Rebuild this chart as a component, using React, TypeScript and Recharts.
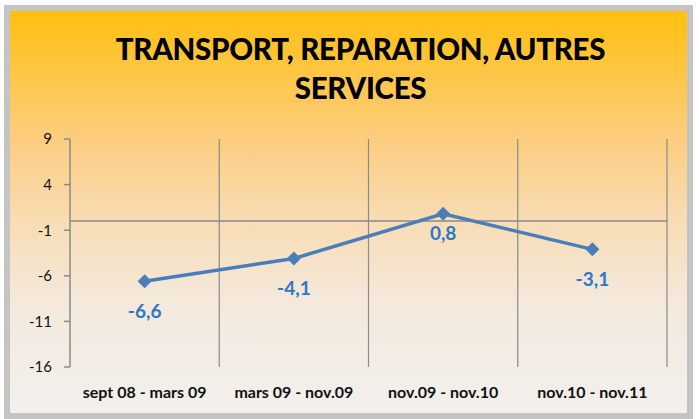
import { LineChart, Line, XAxis, YAxis, ReferenceLine, LabelList } from "recharts";

const periods = ["sept 08 - mars 09", "mars 09 - nov.09", "nov.09 - nov.10", "nov.10 - nov.11"];
const variation = [-6.6, -4.1, 0.8, -3.1];
const yTicks = [9, 4, -1, -6, -11, -16];
const gridBounds = [1, 2, 3, 4];

// slot = middle of each category band, used by the hidden numeric axis for the separators
const chartData = periods.map((p, i) => ({ period: p, value: variation[i], slot: i + 0.5 }));

const axisGray = "#8a8a8a";
const lineBlue = "#4a7ebb";
const labelBlue = "#2a78c6";
const font = "Lato, 'Open Sans', sans-serif";

// diamond marker like Excel's
function Diamond(props: any) {
    const { cx, cy, index } = props;
    if (cx == null || cy == null) return null;
    const r = 7;
    return (
        <path
            key={`d-${index}`}
            d={`M${cx},${cy - r} L${cx + r},${cy} L${cx},${cy + r} L${cx - r},${cy} Z`}
            fill={lineBlue}
        />
    );
}

function ValueLabel(props: any) {
    const { x, y, value, index } = props;
    // excel put the 0,8 label a bit closer to its marker
    const dy = index === 2 ? 19 : 29;
    return (
        <text
            x={x}
            y={y + dy}
            textAnchor="middle"
            dominantBaseline="central"
            fill={labelBlue}
            fontSize={19}
            fontWeight={700}
            fontFamily={font}
        >
            {String(value).replace(".", ",")}
        </text>
    );
}

export default function App() {
    return (
        <div style={{ position: "absolute", left: 0, top: 0, width: 699, height: 419, background: "#ffffff" }}>
            <div
                style={{
                    position: "absolute",
                    left: 4,
                    top: 5,
                    width: 689,
                    height: 414,
                    boxSizing: "border-box",
                    border: "6px solid #c4c4c4",
                    background:
                        "linear-gradient(to bottom, #ffbf0f 0%, #fccd80 32%, #f8dcb3 52%, #f4e8da 71%, #f2f0ee 100%)",
                }}
            />
            <div
                style={{
                    position: "absolute",
                    left: 11,
                    width: 699,
                    top: 29,
                    textAlign: "center",
                    fontFamily: font,
                    fontWeight: 900,
                    fontSize: 29.5,
                    lineHeight: "39px",
                    color: "#000",
                    letterSpacing: -0.3,
                }}
            >
                <div>TRANSPORT, REPARATION, AUTRES</div>
                <div>SERVICES</div>
            </div>
            <div style={{ position: "absolute", left: 0, top: 0 }}>
                <LineChart
                    width={699}
                    height={419}
                    data={chartData}
                    margin={{ top: 139, right: 32, bottom: 0, left: 10 }}
                >
                    <XAxis
                        dataKey="period"
                        scale="band"
                        axisLine={false}
                        tickLine={false}
                        tickSize={0}
                        tickMargin={20}
                        interval={0}
                        tick={{ fontSize: 16, fontWeight: 700, fill: "#111", fontFamily: font }}
                        height={52}
                    />
                    <XAxis xAxisId="grid" dataKey="slot" type="number" domain={[0, 4]} allowDataOverflow hide />
                    <YAxis
                        domain={[-16, 9]}
                        ticks={yTicks}
                        interval={0}
                        width={60}
                        stroke={axisGray}
                        axisLine={{ stroke: axisGray, strokeWidth: 1.5 }}
                        tickLine={{ stroke: axisGray, strokeWidth: 1.5 }}
                        tickSize={6}
                        tickMargin={12}
                        tick={{ fontSize: 15, fill: "#111", fontFamily: font }}
                    />
                    {gridBounds.map((b) => (
                        <ReferenceLine key={b} xAxisId="grid" x={b} stroke={axisGray} strokeWidth={1.2} />
                    ))}
                    <ReferenceLine y={0} stroke={axisGray} strokeWidth={1.5} />
                    <Line
                        dataKey="value"
                        stroke={lineBlue}
                        strokeWidth={3.5}
                        dot={<Diamond />}
                        activeDot={false}
                        isAnimationActive={false}
                    >
                        <LabelList dataKey="value" content={<ValueLabel />} />
                    </Line>
                </LineChart>
            </div>
        </div>
    );
}
